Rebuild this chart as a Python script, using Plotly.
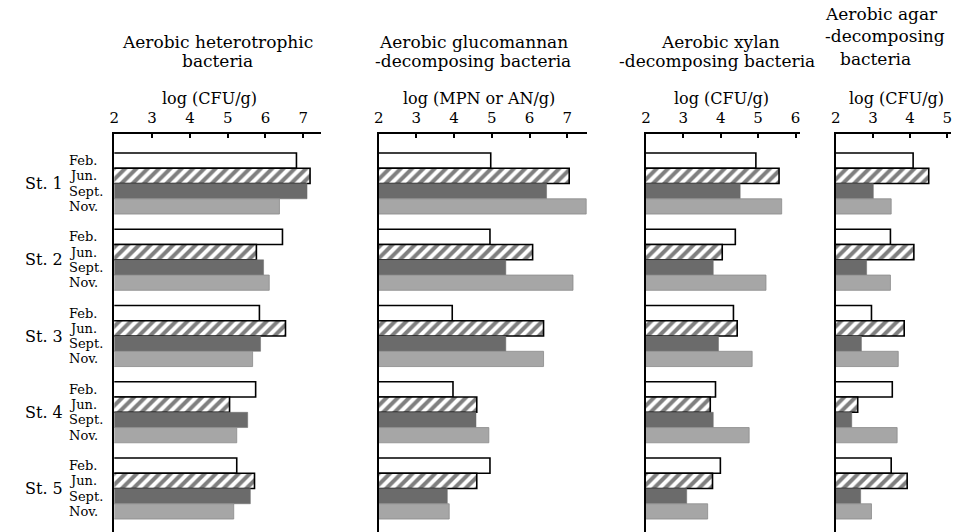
import plotly.graph_objects as go

W, H = 959, 532

stations = ["St. 1", "St. 2", "St. 3", "St. 4", "St. 5"]
months = ["Feb.", "Jun.", "Sept.", "Nov."]

axis_titles = ["log (CFU/g)", "log (MPN or AN/g)", "log (CFU/g)", "log (CFU/g)"]
tick_values = [[2, 3, 4, 5, 6, 7], [2, 3, 4, 5, 6, 7], [2, 3, 4, 5, 6], [2, 3, 4, 5]]

# Aerobic heterotrophic bacteria
hetero_feb = [6.82, 6.45, 5.84, 5.74, 5.24]
hetero_jun = [7.18, 5.76, 6.53, 5.05, 5.71]
hetero_sep = [7.10, 5.95, 5.87, 5.53, 5.60]
hetero_nov = [6.37, 6.10, 5.66, 5.24, 5.16]

# Aerobic glucomannan-decomposing bacteria
gluco_feb = [4.97, 4.95, 3.95, 3.97, 4.95]
gluco_jun = [7.05, 6.08, 6.37, 4.60, 4.60]
gluco_sep = [6.45, 5.37, 5.37, 4.58, 3.82]
gluco_nov = [7.50, 7.15, 6.37, 4.92, 3.87]

# Aerobic xylan-decomposing bacteria
xylan_feb = [4.94, 4.39, 4.34, 3.86, 3.99]
xylan_jun = [5.56, 4.04, 4.44, 3.72, 3.78]
xylan_sep = [4.52, 3.80, 3.94, 3.80, 3.09]
xylan_nov = [5.63, 5.21, 4.84, 4.76, 3.65]

# Aerobic agar-decomposing bacteria
agar_feb = [4.08, 3.47, 2.96, 3.52, 3.49]
agar_jun = [4.50, 4.10, 3.84, 2.59, 3.92]
agar_sep = [3.01, 2.83, 2.69, 2.43, 2.67]
agar_nov = [3.49, 3.47, 3.68, 3.65, 2.96]

panels = [
    [hetero_feb, hetero_jun, hetero_sep, hetero_nov],
    [gluco_feb, gluco_jun, gluco_sep, gluco_nov],
    [xylan_feb, xylan_jun, xylan_sep, xylan_nov],
    [agar_feb, agar_jun, agar_sep, agar_nov],
]

FONT = "DejaVu Serif"

# layout geometry (pixels)
x_dom_px = [(110, 318), (376, 586), (645, 800), (836, 952)]
x_ranges = [(2, 7.47), (2, 7.53), (2, 6.12), (2, 5.10)]
y_top_px = 134
y_range = [24.35, -1.75]

month_styles = [
    dict(color="white", line=dict(color="black", width=1.6)),
    dict(color="white", line=dict(color="black", width=1.6),
         pattern=dict(shape="/", fgcolor="black", bgcolor="white", size=8, solidity=0.5)),
    dict(color="#6b6b6b", line=dict(color="#6b6b6b", width=0.5)),
    dict(color="#a6a6a6", line=dict(color="#8a8a8a", width=0.8)),
]

fig = go.Figure()
for p, series in enumerate(panels):
    xa = "x" if p == 0 else f"x{p+1}"
    ya = "y" if p == 0 else f"y{p+1}"
    for k, vals in enumerate(series):
        ypos = [5 * j + k for j in range(len(stations))]
        fig.add_trace(go.Bar(
            x=vals, y=ypos, orientation="h", width=1.0,
            marker=month_styles[k], xaxis=xa, yaxis=ya,
            name=months[k], showlegend=False, hoverinfo="x",
        ))

layout = dict(
    width=W, height=H, margin=dict(l=0, r=0, t=0, b=0),
    paper_bgcolor="white", plot_bgcolor="white",
    barmode="overlay", showlegend=False,
    font=dict(family=FONT, color="black"),
)
ydom = [0, (H - y_top_px) / H]
for p in range(4):
    sx = "" if p == 0 else str(p + 1)
    layout["xaxis" + sx] = dict(
        domain=[x_dom_px[p][0] / W, x_dom_px[p][1] / W],
        range=list(x_ranges[p]), side="top", anchor="y" + sx,
        showline=True, linecolor="black", linewidth=1.6,
        ticks="inside", ticklen=4, tickwidth=1.5, tickcolor="black",
        tickvals=tick_values[p], tickfont=dict(family=FONT, size=15, color="black"),
        ticklabelstandoff=3,
        showgrid=False, zeroline=False, fixedrange=True,
    )
    layout["yaxis" + sx] = dict(
        domain=ydom, range=y_range, anchor="x" + sx,
        showline=True, linecolor="black", linewidth=1.6,
        showticklabels=False, ticks="", showgrid=False, zeroline=False,
        fixedrange=True,
    )
fig.update_layout(**layout)

def py(ypx):
    return 1 - ypx / H

ann = []
def text(x, y, s, size=17, xanchor="center"):
    ann.append(dict(x=x / W, y=py(y), xref="paper", yref="paper", text=s,
                    showarrow=False, xanchor=xanchor, yanchor="middle",
                    font=dict(family=FONT, size=size, color="black")))

# panel titles
text(214, 42, "Aerobic heterotrophic")
text(214, 61, "bacteria")
text(471, 42, "Aerobic glucomannan")
text(471, 61, "-decomposing bacteria")
text(720, 42, "Aerobic xylan")
text(716, 61, "-decomposing bacteria")
text(823, 14, "Aerobic agar", xanchor="left")
text(823, 36, "-decomposing", xanchor="left")
text(838, 59, "bacteria", xanchor="left")

# axis titles
axis_title_cx = [206, 477, 721, 897]
for p in range(4):
    text(axis_title_cx[p], 99, axis_titles[p], size=16)

# month & station labels
for j, st in enumerate(stations):
    ann.append(dict(x=18 / W, y=5 * j + 1.5, xref="paper", yref="y", text=st,
                    showarrow=False, xanchor="left", yanchor="middle",
                    font=dict(family=FONT, size=16, color="black")))
    for k, m in enumerate(months):
        ann.append(dict(x=63 / W, y=5 * j + k, xref="paper", yref="y", text=m,
                        showarrow=False, xanchor="left", yanchor="middle",
                        borderpad=0,
                        font=dict(family=FONT, size=13, color="black")))

fig.update_layout(annotations=ann)
fig.write_html("out.html")
